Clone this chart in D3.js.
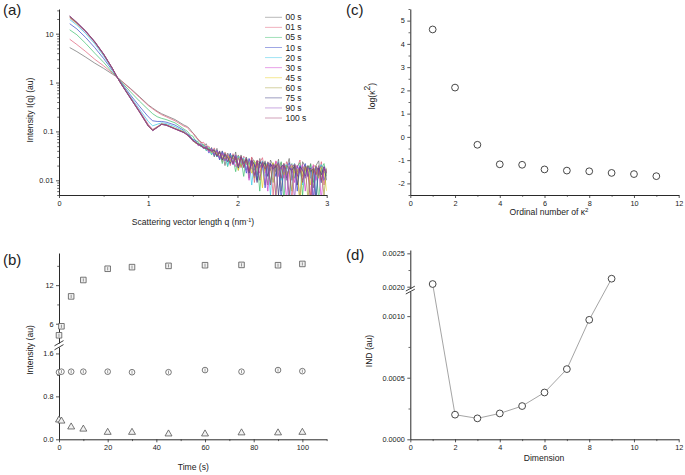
<!DOCTYPE html>
<html><head><meta charset="utf-8">
<script src="https://cdn.jsdelivr.net/npm/d3@7"></script>
<style>
body{margin:0;background:#fff}
text{font-family:"Liberation Sans",Arial,sans-serif;fill:#222}
</style>
</head><body>
<svg id="c" width="685" height="475"></svg>
<script>
// ---------- Panel (a) data ----------
const qValues = [0.12,0.2,0.3,0.4,0.5,0.6,0.65,0.7,0.8,0.9,1.0,1.05,1.1,1.15,1.2,1.3,1.4,
 1.44,1.47,1.50,1.53,1.56,1.59,1.62,1.65,1.68,1.71,1.74,1.77,1.80,1.83,1.86,1.89,1.92,1.95,1.98,2.01,
 2.04,2.07,2.10,2.13,2.16,2.19,2.22,2.25,2.28,2.31,2.34,2.37,2.40,2.43,2.46,2.49,2.52,2.55,2.58,2.61,
 2.64,2.67,2.70,2.73,2.76,2.79,2.82,2.85,2.88,2.91,2.94,2.97,3.00];
const seriesNames = ["00 s","01 s","05 s","10 s","20 s","30 s","45 s","60 s","75 s","90 s","100 s"];
const seriesColors = ["#707070","#e0607a","#3fc070","#3b4bc8","#3fc8e8","#d040d0","#e8d020","#a8a040","#3a3a80","#9050c0","#a04070"];
const I_00 = [5.2,4.3,3.3,2.5,1.95,1.48,1.3,1.08,0.76,0.52,0.35,0.30,0.26,0.23,0.21,0.175,0.135,
 .125,.110,.092,.082,.066,.062,.050,.056,.040,.047, .030,.045,.027,.040,.020,.036,.031,.022,.038,.016, .033,.019,.030,.011,.029,.024,.013,.028,.018,.025, .008,.026,.020,.015,.027,.006,.022,.018,.028,.010, .021,.016,.004,.024,.019,.012,.022,.007,.020,.025,.009,.018,.015];
const I_01 = [7.7,6.0,4.3,3.0,2.2,1.55,1.3,1.07,0.74,0.50,0.34,0.29,0.25,0.22,0.20,0.165,0.128,
 .120,.102,.094,.076,.070,.058,.060,.047,.050,.036, .046,.032,.040,.024,.038,.029,.020,.035,.026,.033, .018,.031,.027,.016,.030,.009,.026,.023,.029,.014, .024,.021,.005,.025,.019,.023,.011,.024,.017,.004, .022,.018,.026,.010,.020,.016,.005,.021,.018,.012,.024,.008,.017];
const I_05 = [12,9.5,6.3,4.0,2.6,1.6,1.3,1.02,0.65,0.42,0.28,0.23,0.20,0.185,0.175,0.15,0.112,
 .100,.084,.080,.064,.062,.050,.054,.040,.047,.033, .042,.030,.038,.022,.036,.019,.034,.028,.015,.032, .027,.012,.029,.021,.026,.016,.025,.006,.024,.020, .023,.009,.022,.019,.013,.024,.004,.020,.018,.022, .011,.019,.023,.005,.018,.016,.021,.009,.019,.004,.017,.022,.012];
const I_10 = [16,12.5,8.3,5.2,3.1,1.75,1.3,0.98,0.56,0.33,0.20,0.165,0.16,0.16,0.155,0.135,0.105,
 .090,.080,.068,.066,.052,.056,.044,.050,.036,.045, .032,.041,.026,.039,.030,.024,.036,.021,.032,.018, .030,.024,.014,.028,.020,.025,.010,.024,.021,.007, .023,.019,.022,.012,.021,.004,.020,.017,.023,.014, .019,.006,.020,.016,.022,.012,.018,.004,.019,.016,.020,.010,.016];
const I_20 = [19.5,15,10,6.2,3.5,1.85,1.3,0.95,0.52,0.29,0.16,0.13,0.14,0.15,0.145,0.125,0.1,
 .086,.072,.070,.058,.058,.048,.051,.041,.046,.034, .043,.030,.037,.028,.034,.020,.033,.027,.023,.031, .021,.029,.017,.026,.008,.024,.022,.018,.025,.012, .022,.005,.021,.019,.024,.010,.019,.021,.003,.018, .022,.013,.019,.008,.020,.017,.011,.019,.005,.018,.021,.014,.017];
const I_30 = [21,16,10.8,6.6,3.7,1.9,1.3,0.93,0.5,0.27,0.14,0.11,0.125,0.142,0.138,0.115,0.097,
 .082,.078,.063,.062,.051,.053,.045,.048,.038,.043, .034,.039,.029,.036,.025,.033,.026,.030,.019,.029, .024,.020,.028,.010,.026,.019,.023,.014,.022,.018, .006,.022,.017,.024,.012,.020,.016,.004,.019,.021, .009,.020,.015,.021,.006,.018,.016,.020,.010,.017,.004,.019,.015];
const I_45 = [21.5,16.2,11,6.7,3.75,1.9,1.3,0.93,0.49,0.26,0.135,0.108,0.124,0.143,0.137,0.116,0.098,
 .087,.074,.067,.057,.057,.049,.049,.043,.044,.037, .040,.033,.036,.030,.028,.034,.023,.031,.028,.016, .029,.022,.025,.020,.014,.025,.018,.023,.007,.022, .019,.016,.023,.004,.020,.018,.022,.013,.017,.020, .014,.017,.003,.019,.016,.020,.008,.018,.015,.011,.019,.016,.006];
const I_60 = [22,16.5,11.1,6.8,3.8,1.92,1.3,0.92,0.49,0.26,0.132,0.106,0.122,0.141,0.136,0.114,0.096,
 .083,.077,.064,.061,.053,.052,.046,.046,.040,.041, .036,.037,.031,.034,.027,.032,.025,.029,.024,.029, .019,.027,.021,.024,.017,.011,.024,.019,.022,.016, .021,.018,.009,.022,.016,.019,.013,.020,.015,.006, .020,.015,.018,.012,.019,.004,.017,.014,.020,.013,.016,.005,.018];
const I_75 = [22.5,16.8,11.2,6.8,3.8,1.92,1.3,0.92,0.48,0.255,0.13,0.105,0.121,0.14,0.135,0.113,0.095,
 .085,.075,.066,.059,.056,.050,.047,.044,.043,.039, .041,.031,.039,.026,.034,.029,.022,.033,.027,.018, .030,.022,.027,.014,.025,.021,.009,.024,.019,.023, .012,.022,.017,.020,.005,.019,.021,.011,.018,.016, .020,.008,.019,.016,.012,.020,.015,.017,.004,.018,.013,.019,.010];
const I_90 = [23,17,11.3,6.9,3.85,1.93,1.3,0.92,0.48,0.255,0.13,0.104,0.12,0.14,0.134,0.113,0.095,
 .086,.074,.065,.060,.054,.051,.048,.045,.041,.040, .035,.040,.028,.036,.025,.034,.030,.021,.033,.019, .029,.024,.016,.027,.020,.012,.025,.018,.023,.008, .022,.016,.021,.005,.020,.017,.022,.010,.019,.016, .004,.020,.014,.019,.011,.018,.015,.003,.019,.016,.009,.018,.014];
const I_100 = [23,17,11.3,6.9,3.85,1.93,1.3,0.91,0.48,0.25,0.128,0.104,0.12,0.139,0.134,0.112,0.094,
 .084,.076,.066,.059,.055,.052,.047,.046,.042,.041, .042,.031,.037,.027,.035,.024,.032,.022,.030,.020, .031,.018,.028,.015,.026,.013,.025,.010,.024,.017, .022,.008,.021,.018,.023,.011,.020,.016,.005,.019, .021,.012,.018,.009,.020,.015,.003,.018,.013,.020,.010,.017,.014];
const aTicksX = [0,1,2,3];
const aTicksY = [0.01,0.1,1,10];

// ---------- Panel (b) data ----------
const timeS = [0,1,5,10,20,30,45,60,75,90,100];
const squareI = [4.2,5.6,10.25,12.8,14.55,14.8,15.0,15.1,15.15,15.1,15.3];
const circleI = [1.25,1.26,1.26,1.26,1.26,1.25,1.25,1.29,1.26,1.29,1.27];
const triangleI = [0.36,0.34,0.23,0.19,0.13,0.13,0.10,0.10,0.12,0.12,0.13];
const bTicksX = [0,20,40,60,80,100];
const bTicksYlow = [0.0,0.8,1.6];
const bTicksYhigh = [6,12];

// ---------- Panel (c) data ----------
const ordinal = [1,2,3,4,5,6,7,8,9,10,11];
const logKappa2 = [4.62,2.12,-0.34,-1.18,-1.20,-1.40,-1.45,-1.48,-1.55,-1.60,-1.69];
const cTicksX = [0,2,4,6,8,10,12];
const cTicksY = [-2,-1,0,1,2,3,4,5];

// ---------- Panel (d) data ----------
const dimension = [1,2,3,4,5,6,7,8,9];
const indValue = [0.00204,0.00020,0.00017,0.00021,0.00027,0.00038,0.00057,0.00097,0.00212];
const dTicksX = [0,2,4,6,8,10,12];
const dTicksYlow = [0,0.0005,0.0010];
const dTicksYhigh = [0.0020,0.0025];

const svg = d3.select("#c");
const AX = "#2a2a2a";
const TICKFS = 7.3, TITLEFS = 8.6;

function styleAxis(g){
  g.select(".domain").attr("stroke",AX).attr("stroke-width",1);
  g.selectAll(".tick line").attr("stroke",AX).attr("stroke-width",0.8);
  g.selectAll(".tick text").attr("font-size",TICKFS).attr("fill","#222")
    .attr("font-family",'"Liberation Sans",Arial,sans-serif');
}
function drawAxis(makeGen, tx, ty, majors, minors, fmt){
  const g = svg.append("g").attr("transform",`translate(${tx},${ty})`);
  g.call(makeGen().tickValues(majors).tickFormat(fmt).tickSize(3).tickSizeOuter(0).tickPadding(2.5));
  styleAxis(g);
  if(minors && minors.length){
    const g2 = svg.append("g").attr("transform",`translate(${tx},${ty})`);
    g2.call(makeGen().tickValues(minors).tickFormat("").tickSize(1.8).tickSizeOuter(0));
    g2.select(".domain").remove();
    g2.selectAll(".tick line").attr("stroke",AX).attr("stroke-width",0.7);
  }
  return g;
}
function title(x,y,parts,rot){
  const t = svg.append("text").attr("font-size",TITLEFS).attr("text-anchor","middle")
    .attr("transform",`translate(${x},${y})` + (rot?" rotate(-90)":""));
  parts.forEach(p=>{
    const s = t.append("tspan").text(p.t);
    if(p.sup) s.attr("baseline-shift","super").attr("font-size",p.fs||6);
  });
}
function panelLabel(x,y,s){
  svg.append("text").attr("x",x).attr("y",y).attr("font-size",15).attr("fill","#111").text(s);
}

// ================= Panel (a) =================
const xA = d3.scaleLinear().domain([0,3]).range([59,326.7]);
const yA = d3.scaleLog().domain([0.005,32]).range([195,9]);
svg.append("clipPath").attr("id","clipA").append("rect")
  .attr("x",59).attr("y",9).attr("width",267.7).attr("height",186);
const seriesA = [I_00,I_01,I_05,I_10,I_20,I_30,I_45,I_60,I_75,I_90,I_100];
const lineA = d3.line().x((d,i)=>xA(qValues[i])).y(d=>yA(d));
const gA = svg.append("g").attr("clip-path","url(#clipA)");
seriesA.forEach((s,k)=>{
  gA.append("path").datum(s).attr("d",lineA).attr("fill","none")
    .attr("stroke",seriesColors[k]).attr("stroke-width",0.8).attr("stroke-opacity",0.9);
});
const minorLog = [];
[0.001,0.01,0.1,1,10].forEach(b=>{ for(let m=2;m<=9;m++){ const v=b*m; if(v>=0.005&&v<=32) minorLog.push(v);} });
drawAxis(()=>d3.axisLeft(yA), 59, 0, aTicksY, minorLog, d=>String(d));
drawAxis(()=>d3.axisBottom(xA), 0, 195, aTicksX, [0.5,1.5,2.5], d=>String(d));
seriesNames.forEach((n,k)=>{
  const y = 17.3 + k*10.07;
  svg.append("line").attr("x1",265).attr("x2",282).attr("y1",y).attr("y2",y)
    .attr("stroke",seriesColors[k]).attr("stroke-width",0.9).attr("stroke-opacity",0.55);
  svg.append("text").attr("x",285.5).attr("y",y+3).attr("font-size",8.5).attr("fill","#333").text(n);
});
title(33,110,[{t:"Intensity I(q) (au)"}],true);
title(193,225,[{t:"Scattering vector length q (nm"},{t:"-1",sup:true,fs:5.5},{t:")"}],false);
panelLabel(3,15,"(a)");

// ================= Panel (b) =================
const xB = d3.scaleLinear().domain([0,110]).range([59,326.7]);
const yBlo = d3.scaleLinear().domain([0,1.72]).range([439.3,347]);
const yBhi = d3.scaleLinear().domain([3,17]).range([343,253]);
const yB = v => v >= 2.5 ? yBhi(v) : yBlo(v);
drawAxis(()=>d3.axisLeft(yBlo), 59, 0, bTicksYlow, [0.4,1.2], d=>d.toFixed(1));
drawAxis(()=>d3.axisLeft(yBhi), 59, 0, bTicksYhigh, [9,15], d=>String(d));
drawAxis(()=>d3.axisBottom(xB), 0, 439.3, bTicksX, [10,30,50,70,90,110], d=>String(d));
[343.2,347.2].forEach(y=>{
  svg.append("line").attr("x1",54.5).attr("x2",63.5).attr("y1",y+2.6).attr("y2",y-2.6)
    .attr("stroke",AX).attr("stroke-width",0.9);
});
const mk = "#555";
function errBar(x,y){
  svg.append("line").attr("x1",x).attr("x2",x).attr("y1",y-1.6).attr("y2",y+1.6).attr("stroke",mk).attr("stroke-width",0.6);
}
timeS.forEach((t,i)=>{
  const x = xB(t);
  let y = yB(squareI[i]);
  svg.append("path").attr("d",d3.symbol(d3.symbolSquare,31)()).attr("transform",`translate(${x},${y})`)
    .attr("fill","#f2f2f2").attr("stroke",mk).attr("stroke-width",0.8);
  errBar(x,y);
  y = yB(circleI[i]);
  svg.append("path").attr("d",d3.symbol(d3.symbolCircle,25)()).attr("transform",`translate(${x},${y})`)
    .attr("fill","#fff").attr("stroke",mk).attr("stroke-width",0.8);
  errBar(x,y);
  y = yB(triangleI[i]);
  svg.append("path").attr("d",d3.symbol(d3.symbolTriangle,21)()).attr("transform",`translate(${x},${y})`)
    .attr("fill","#f2f2f2").attr("stroke",mk).attr("stroke-width",0.8);
});
title(33,350,[{t:"Intensity (au)"}],true);
title(193.3,470,[{t:"Time (s)"}],false);
panelLabel(3,265,"(b)");

// ================= Panel (c) =================
const xC = d3.scaleLinear().domain([0,12]).range([410.3,678.7]);
const yC = d3.scaleLinear().domain([-2.5,5.5]).range([195,9]);
drawAxis(()=>d3.axisLeft(yC), 410.3, 0, cTicksY, [-2.5,-1.5,-0.5,0.5,1.5,2.5,3.5,4.5,5.5], d=>String(d));
drawAxis(()=>d3.axisBottom(xC), 0, 195, cTicksX, [1,3,5,7,9,11], d=>String(d));
ordinal.forEach((o,i)=>{
  svg.append("circle").attr("cx",xC(o)).attr("cy",yC(logKappa2[i])).attr("r",3.4)
    .attr("fill","#fff").attr("stroke","#333").attr("stroke-width",0.9);
});
title(375,96,[{t:"log(κ"},{t:"2",sup:true,fs:8.5},{t:")"}],true);
title(549,214.5,[{t:"Ordinal number of κ"},{t:"2",sup:true,fs:6}],false);
panelLabel(346,15,"(c)");

// ================= Panel (d) =================
const xD = d3.scaleLinear().domain([0,12]).range([410.3,678.7]);
const yDlo = d3.scaleLinear().domain([0,0.0012]).range([439.3,291.5]);
const yDhi = d3.scaleLinear().domain([0.00197,0.00255]).range([288.7,250]);
const yD = v => v >= 0.0016 ? yDhi(v) : yDlo(v);
drawAxis(()=>d3.axisLeft(yDlo), 410.3, 0, dTicksYlow, [0.00025,0.00075], d=>d.toFixed(4));
drawAxis(()=>d3.axisLeft(yDhi), 410.3, 0, dTicksYhigh, [0.00225], d=>d.toFixed(4));
drawAxis(()=>d3.axisBottom(xD), 0, 439.3, dTicksX, [1,3,5,7,9,11], d=>String(d));
[288.6,291.6].forEach(y=>{
  svg.append("line").attr("x1",405.8).attr("x2",414.8).attr("y1",y+2.4).attr("y2",y-2.4)
    .attr("stroke",AX).attr("stroke-width",0.9);
});
const lineD = d3.line().x((d,i)=>xD(dimension[i])).y(d=>yD(d));
svg.append("path").datum(indValue).attr("d",lineD).attr("fill","none").attr("stroke","#9a9a9a").attr("stroke-width",0.9);
dimension.forEach((o,i)=>{
  svg.append("circle").attr("cx",xD(o)).attr("cy",yD(indValue[i])).attr("r",3.4)
    .attr("fill","#fff").attr("stroke","#333").attr("stroke-width",0.9);
});
title(372,351,[{t:"IND (au)"}],true);
title(544,461,[{t:"Dimension"}],false);
panelLabel(346,260,"(d)");
</script>
</body></html>
